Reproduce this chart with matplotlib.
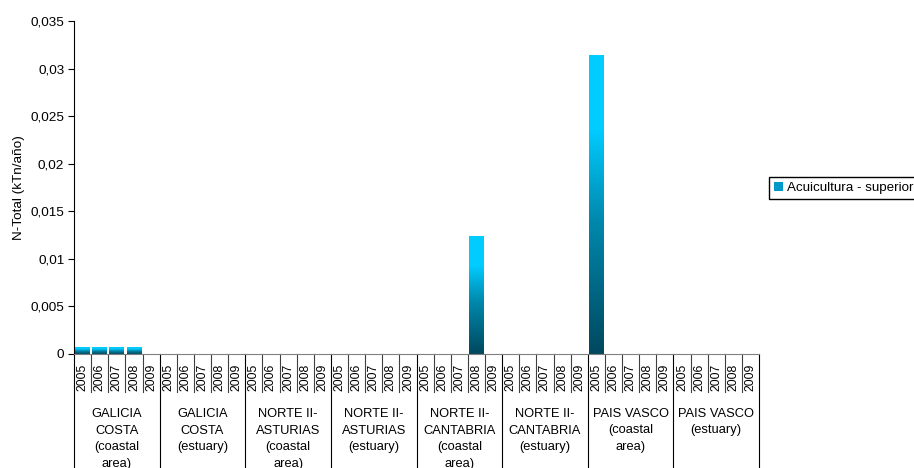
import numpy as np
import matplotlib.pyplot as plt
from matplotlib.colors import LinearSegmentedColormap
from matplotlib.patches import Patch
from matplotlib.transforms import blended_transform_factory

plt.rcParams['font.family'] = ['Liberation Sans', 'DejaVu Sans']

years = ['2005', '2006', '2007', '2008', '2009']
grupos = ['GALICIA\nCOSTA\n(coastal\narea)', 'GALICIA\nCOSTA\n(estuary)',
          'NORTE II-\nASTURIAS\n(coastal\narea)', 'NORTE II-\nASTURIAS\n(estuary)',
          'NORTE II-\nCANTABRIA\n(coastal\narea)', 'NORTE II-\nCANTABRIA\n(estuary)',
          'PAIS VASCO\n(coastal\narea)', 'PAIS VASCO\n(estuary)']
# Acuicultura - superior, 5 years per group
galicia_costa = [0.0007, 0.0007, 0.0007, 0.0007, 0]
galicia_estuario = [0, 0, 0, 0, 0]
asturias_costa = [0, 0, 0, 0, 0]
asturias_estuario = [0, 0, 0, 0, 0]
cantabria_costa = [0, 0, 0, 0.0124, 0]
cantabria_estuario = [0, 0, 0, 0, 0]
vasco_costa = [0.0314, 0, 0, 0, 0]
vasco_estuario = [0, 0, 0, 0, 0]
valores = (galicia_costa + galicia_estuario + asturias_costa + asturias_estuario
           + cantabria_costa + cantabria_estuario + vasco_costa + vasco_estuario)

fig = plt.figure(figsize=(9.14, 4.68), dpi=100)
ax = fig.add_axes([74/914, 114/468, 685/914, 333/468])

x = np.arange(len(valores))
barras = ax.bar(x, valores, width=0.86, color='none', edgecolor='none')

cmap = LinearSegmentedColormap.from_list('grad', [(0, '#00485E'), (0.45, '#0089AE'),
                                                  (0.75, '#00CCFF'), (1, '#00CCFF')])
grad = np.linspace(0, 1, 256).reshape(-1, 1)
for b in barras:
    h = b.get_height()
    if h <= 0:
        continue
    x0 = b.get_x()
    im = ax.imshow(grad, cmap=cmap, origin='lower', aspect='auto',
                   extent=[x0, x0 + b.get_width(), 0, h], zorder=2)
    im.set_clip_path(b)

ax.set_xlim(-0.5, len(valores) - 0.5)
ax.set_ylim(0, 0.035)
ax.set_yticks(np.arange(0, 0.0351, 0.005))
ax.set_yticklabels(['0', '0,005', '0,01', '0,015', '0,02', '0,025', '0,03', '0,035'], fontsize=9.7)
ax.tick_params(axis='y', length=4, width=0.8, pad=3)
ax.set_xticks([])
ax.spines['top'].set_visible(False)
ax.spines['right'].set_visible(False)
ax.spines['bottom'].set_color('#808080')
ax.set_ylabel('N-Total (kTn/año)', fontsize=9.7, labelpad=4)

# etiquetas de categorias en dos niveles
tr = blended_transform_factory(ax.transData, ax.transAxes)
fila = 38 / 333
fondo = 114 / 333
for i in range(len(valores)):
    ax.text(i, -37 / 333, years[i % 5], rotation=90, ha='center', va='bottom',
            fontsize=8.8, transform=tr)
for i in range(len(valores) + 1):
    if i % 5 == 0:
        ax.plot([i - 0.5, i - 0.5], [0, -fondo], color='black', lw=0.8,
                transform=tr, clip_on=False)
    else:
        ax.plot([i - 0.5, i - 0.5], [0, -fila], color='#404040', lw=0.8,
                transform=tr, clip_on=False)
for g, nombre in enumerate(grupos):
    ax.text(g * 5 + 2, -54 / 333, nombre, ha='center', va='top', fontsize=9.3,
            linespacing=1.5, transform=tr)

fig.legend(handles=[Patch(facecolor='#0099C8', edgecolor='none')],
           labels=['Acuicultura - superior'], loc='upper left',
           bbox_to_anchor=(769/914, 1 - 177/468), fontsize=9.6,
           frameon=True, fancybox=False, edgecolor='black', framealpha=1,
           handlelength=0.7, handleheight=0.7, handletextpad=0.3,
           borderpad=0.35, borderaxespad=0)

fig.savefig('out.png', dpi=100)
